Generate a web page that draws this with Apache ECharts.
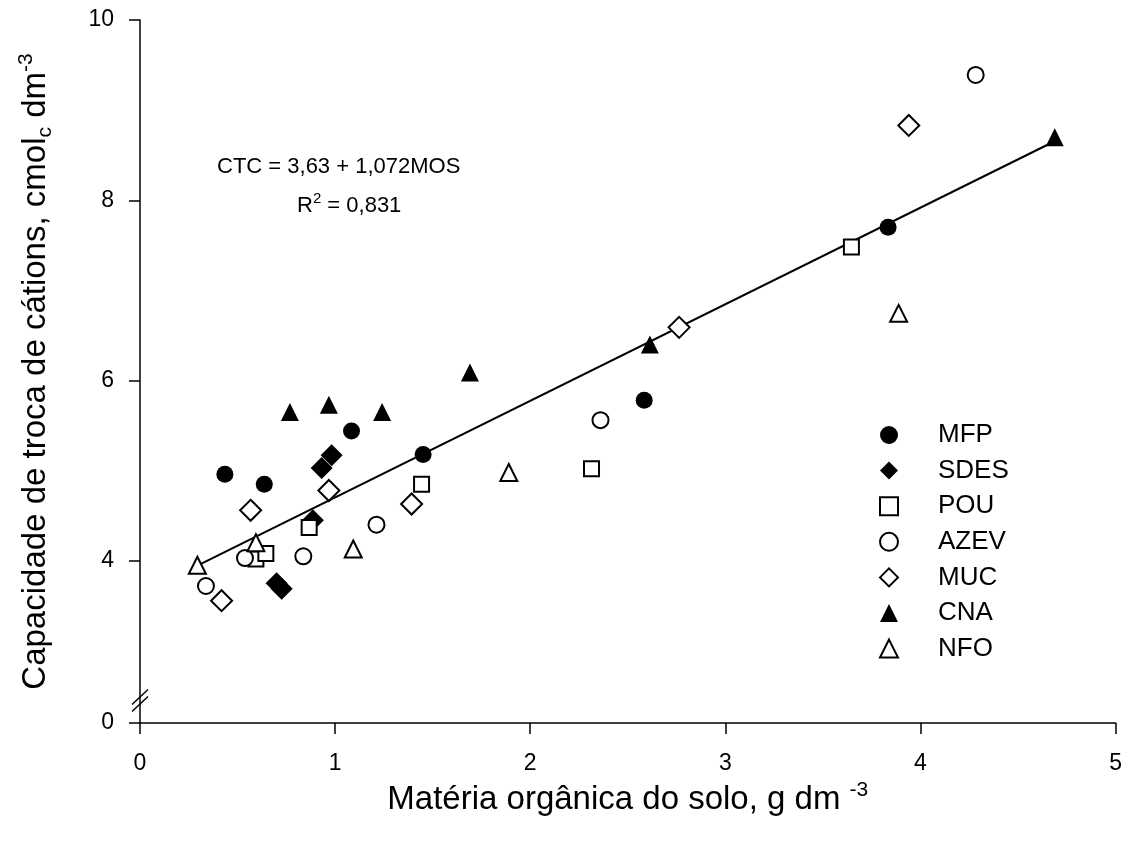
<!DOCTYPE html>
<html>
<head>
<meta charset="utf-8">
<script src="https://cdn.jsdelivr.net/npm/echarts@6/dist/echarts.min.js"></script>
<style>html,body{margin:0;padding:0;background:#fff}#c{width:1125px;height:844px}</style>
</head>
<body>
<div id="c"></div>
<script>
// Data (x = matéria orgânica, y = CTC)
const MFP  = [[0.435,4.96],[0.637,4.85],[1.084,5.44],[1.451,5.18],[2.584,5.78],[3.834,7.70]];
const SDES = [[0.982,5.17],[0.931,5.03],[0.886,4.45],[0.700,3.75],[0.726,3.69]];
const POU  = [[0.594,4.02],[0.645,4.08],[0.867,4.37],[1.443,4.85],[2.314,5.02],[3.646,7.48]];
const AZEV = [[0.338,3.72],[0.538,4.03],[0.837,4.05],[1.212,4.40],[2.360,5.56],[4.283,9.39]];
const MUC  = [[0.418,3.557],[0.567,4.56],[0.968,4.78],[1.392,4.63],[2.763,6.59],[3.940,8.83]];
const CNA  = [[0.768,5.65],[0.968,5.73],[1.241,5.65],[1.691,6.09],[2.613,6.40],[4.688,8.70]];
const NFO  = [[0.294,3.95],[0.594,4.20],[1.093,4.13],[1.890,4.98],[3.888,6.745]];
const fitIntercept = 3.63, fitSlope = 1.072;
const fitX = [0.294, 4.69];
const xTicks = [0,1,2,3,4,5];
const yTickValues = [2.2,4,6,8,10];   // 2.2 = position of broken-axis "0"
const yTickLabels = ['0','4','6','8','10'];
const seriesNames = ['MFP','SDES','POU','AZEV','MUC','CNA','NFO'];

const FONT = '"Liberation Sans", Arial, Helvetica, sans-serif';
const chart = echarts.init(document.getElementById('c'), null, {renderer:'canvas'});

const filled = {color:'#000', borderColor:'#000', borderWidth:0, opacity:1};
const open = {color:'#fff', borderColor:'#000', borderWidth:2, opacity:1};
function sc(name, data, symbol, size, style){
  return {name, type:'scatter', data, symbol, symbolSize:size, itemStyle:style, z:3,
          emphasis:{disabled:true}};
}

const option = {
  animation:false,
  backgroundColor:'#fff',
  textStyle:{fontFamily:FONT, color:'#000'},
  grid:{left:140, right:9, top:20, bottom:121, containLabel:false},
  legend:{
    orient:'vertical', left:874, top:417, itemWidth:18, itemHeight:18, itemGap:9.6,
    data:seriesNames,
    textStyle:{fontFamily:FONT, fontSize:26, lineHeight:26, color:'#000', padding:[0,0,0,35]},
    selectedMode:false
  },
  xAxis:{
    type:'value', min:0, max:5, interval:1,
    axisLine:{show:true, onZero:false, lineStyle:{color:'#000', width:1.5}},
    axisTick:{show:true, length:11, lineStyle:{color:'#000', width:1.5}},
    axisLabel:{fontFamily:FONT, fontSize:23, color:'#000', margin:29,
      formatter: v => xTicks.includes(v) ? String(v) : ''},
    splitLine:{show:false},
    name:'Matéria orgânica do solo, g dm {s|-3}',
    nameLocation:'middle', nameGap:54,
    nameTextStyle:{fontFamily:FONT, fontSize:33, color:'#000', lineHeight:40,
      rich:{s:{fontFamily:FONT, fontSize:21, color:'#000', verticalAlign:'top', lineHeight:18}}}
  },
  yAxis:{
    type:'value', min:2.2, max:10,
    axisLine:{show:true, onZero:false, lineStyle:{color:'#000', width:1.5}},
    axisTick:{show:true, length:11, customValues:yTickValues, lineStyle:{color:'#000', width:1.5}},
    axisLabel:{fontFamily:FONT, fontSize:23, color:'#000', margin:26, customValues:yTickValues,
      formatter: v => { const i = yTickValues.findIndex(t => Math.abs(t-v)<1e-6); return i>=0 ? yTickLabels[i] : ''; }},
    splitLine:{show:false},
    name:'Capacidade de troca de cátions, cmol{b|c} dm{s|-3}',
    nameLocation:'middle', nameGap:84,
    nameTextStyle:{fontFamily:FONT, fontSize:33, color:'#000', lineHeight:40,
      rich:{
        s:{fontFamily:FONT, fontSize:21, color:'#000', verticalAlign:'top', lineHeight:18},
        b:{fontFamily:FONT, fontSize:21, color:'#000', verticalAlign:'bottom', lineHeight:18}
      }}
  },
  series:[
    {name:'fit', type:'line', z:1, data: fitX.map(x => [x, fitIntercept + fitSlope*x]),
     showSymbol:false, lineStyle:{color:'#000', width:2}, emphasis:{disabled:true}, silent:true},
    sc('MFP', MFP, 'circle', 17, filled),
    sc('SDES', SDES, 'diamond', 22, filled),
    sc('POU', POU, 'rect', 15, open),
    sc('AZEV', AZEV, 'circle', 16, open),
    sc('MUC', MUC, 'diamond', 21, open),
    sc('CNA', CNA, 'triangle', 18, filled),
    sc('NFO', NFO, 'triangle', 17, open)
  ],
  graphic:[
    {id:'eq1', type:'text', left:217, top:156, style:{text:'CTC = 3,63 + 1,072MOS', fontFamily:FONT, fontSize:22, fill:'#000'}},
    {id:'eq2', type:'text', left:297, top:191, style:{
      text:'R{s|2} = 0,831', fontFamily:FONT, fontSize:22, fill:'#000', lineHeight:30,
      rich:{s:{fontFamily:FONT, fontSize:15, fill:'#000', verticalAlign:'top', lineHeight:12}}}}
  ]
};
chart.setOption(option);

// y-axis break mark at a value between the broken "0" and 4
const bp = chart.convertToPixel({gridIndex:0}, [0, 2.45]);
chart.setOption({graphic:[
  {id:'brk1', type:'line', shape:{x1:bp[0]-8, y1:bp[1]+4, x2:bp[0]+8, y2:bp[1]-11}, style:{stroke:'#000', lineWidth:1.5}},
  {id:'brk2', type:'line', shape:{x1:bp[0]-8, y1:bp[1]+11, x2:bp[0]+8, y2:bp[1]-4}, style:{stroke:'#000', lineWidth:1.5}}
]});
</script>
</body>
</html>
